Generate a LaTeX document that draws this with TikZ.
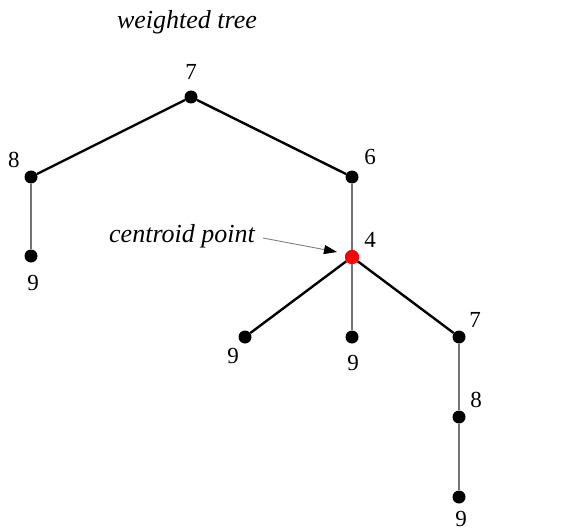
\documentclass[tikz,border=0pt]{standalone}
\usepackage{fontspec}
\setmainfont{Liberation Serif}
\usetikzlibrary{arrows.meta}
\begin{document}
\begin{tikzpicture}[x=1pt,y=-1pt,
  dot/.style={circle,fill=black,inner sep=0pt,minimum size=13pt},
  cdot/.style={circle,fill=red,inner sep=0pt,minimum size=14pt},
  lab/.style={font=\fontsize{23}{25}\selectfont,inner sep=0pt},
  ital/.style={font=\fontsize{26}{28}\selectfont\itshape,inner sep=0pt},
  edge/.style={line width=2.4pt,black},
  vedge/.style={line width=2.4pt,black!55}]
\useasboundingbox (0,0) rectangle (562,532);
\node[dot] (r) at (191,97) {};
\node[dot] (a8) at (31,177) {};
\node[dot] (a9) at (31,256) {};
\node[dot] (b6) at (352,177) {};
\node[cdot] (c4) at (352,257) {};
\node[dot] (d9) at (245,337) {};
\node[dot] (e9) at (352,337) {};
\node[dot] (f7) at (459,337) {};
\node[dot] (g8) at (459,417) {};
\node[dot] (h9) at (459,497) {};
\node[lab] (lr) at (191,72) {7};
\node[lab] (la8) at (14,160) {8};
\node[lab] (la9) at (33,283) {9};
\node[lab] (lb6) at (370,157) {6};
\node[lab] (lc4) at (370,240) {4};
\node[lab] (ld9) at (233,356) {9};
\node[lab] (le9) at (353,363) {9};
\node[lab] (lf7) at (475,320) {7};
\node[lab] (lg8) at (476,400) {8};
\node[lab] (lh9) at (461,519) {9};
\node[ital] (title) at (187,22) {weighted tree};
\node[ital] (cp) at (182,236) {centroid point};
\draw[edge] (r) -- (a8);
\draw[edge] (r) -- (b6);
\draw[vedge] (a8) -- (a9);
\draw[vedge] (b6) -- (c4);
\draw[edge] (c4) -- (d9);
\draw[vedge] (c4) -- (e9);
\draw[edge] (c4) -- (f7);
\draw[vedge] (f7) -- (g8);
\draw[vedge] (g8) -- (h9);
\node[cdot] at (c4) {};
\coordinate (cpend) at (263,238);
\draw[black!50,line width=0.9pt,-{Triangle[length=13pt,width=9pt,fill=black,color=black]}] (cpend) -- (337,252);
\end{tikzpicture}
\end{document}
